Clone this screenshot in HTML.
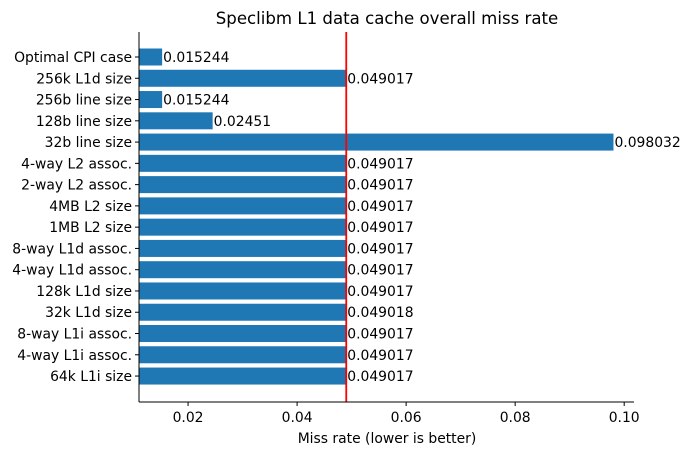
<!DOCTYPE html>
<html><head><meta charset="utf-8"><style>
body{margin:0;background:#fff;font-family:"DejaVu Sans","Liberation Sans",sans-serif;}
svg text{font-family:"DejaVu Sans","Liberation Sans",sans-serif;}
</style></head><body>
<svg id="chart" width="688" height="455" xmlns="http://www.w3.org/2000/svg">
<text x="387" y="24" font-size="16.6" text-anchor="middle" fill="#000">Speclibm L1 data cache overall miss rate</text>
<g id="bars"></g>
<g id="labels"></g>
<g id="xticks"></g>
<g id="yticks"></g>
<line id="refline" stroke="#ff0000" stroke-width="1.8"></line>
<line x1="139" y1="402" x2="634" y2="402" stroke="#000" stroke-width="1"/>
<line x1="139" y1="32" x2="139" y2="402" stroke="#000" stroke-width="1"/>
<text x="387" y="443" font-size="13.9" text-anchor="middle">Miss rate (lower is better)</text>
</svg>
<script>
const categories=["Optimal CPI case","256k L1d size","256b line size","128b line size","32b line size","4-way L2 assoc.","2-way L2 assoc.","4MB L2 size","1MB L2 size","8-way L1d assoc.","4-way L1d assoc.","128k L1d size","32k L1d size","8-way L1i assoc.","4-way L1i assoc.","64k L1i size"];
const values=[0.015244,0.049017,0.015244,0.02451,0.098032,0.049017,0.049017,0.049017,0.049017,0.049017,0.049017,0.049017,0.049018,0.049017,0.049017,0.049017];
const valueLabels=["0.015244","0.049017","0.015244","0.02451","0.098032","0.049017","0.049017","0.049017","0.049017","0.049017","0.049017","0.049017","0.049018","0.049017","0.049017","0.049017"];
const xTicks=[0.02,0.04,0.06,0.08,0.10];
const xTickLabels=["0.02","0.04","0.06","0.08","0.10"];
const refValue=0.049017;
const NS="http://www.w3.org/2000/svg";
const xMin=0.011,xMax=0.1018,left=139,right=634;
const x=v=>left+(v-xMin)/(xMax-xMin)*(right-left);
const y0=57,step=21.27;
const y=i=>y0+i*step;
function mk(tag,attrs,parent){const e=document.createElementNS(NS,tag);for(const k in attrs)e.setAttribute(k,attrs[k]);document.getElementById(parent).appendChild(e);return e;}
categories.forEach((c,i)=>{
  const r=mk("rect",{x:left,y:y(i)-8.5,width:Math.max(0,x(values[i])-left),height:17,fill:"#1f77b4"},"bars");
  
  
  const t=mk("text",{x:x(values[i])+1,y:y(i)+5,"font-size":"13.9"},"labels");t.textContent=valueLabels[i];
  
  
  const tk=mk("line",{x1:left-4,x2:left,y1:y(i),y2:y(i),stroke:"#000"},"yticks");
  
  
  const l=mk("text",{x:left-7,y:y(i)+5,"font-size":"13.9","text-anchor":"end"},"yticks");l.textContent=c;
  
  
});
xTicks.forEach((v,i)=>{
  const tk=mk("line",{x1:x(v),x2:x(v),y1:402,y2:406,stroke:"#000"},"xticks");
  
  
  const l=mk("text",{x:x(v),y:422,"font-size":"13.9","text-anchor":"middle"},"xticks");l.textContent=xTickLabels[i];
  
  
});
const rl=document.getElementById("refline");
rl.setAttribute("x1",x(refValue));rl.setAttribute("x2",x(refValue));rl.setAttribute("y1",32);rl.setAttribute("y2",402);
</script>
</body></html>
